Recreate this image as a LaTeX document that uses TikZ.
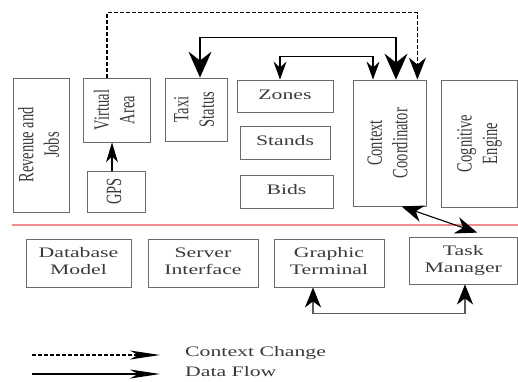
\documentclass[tikz,border=0pt]{standalone}
\usepackage{fontspec}
\setmainfont{Liberation Serif}
\usepackage{graphicx}
\usetikzlibrary{arrows.meta}
\definecolor{txtgray}{HTML}{3A3A3A}
\definecolor{boxgray}{HTML}{6A6A6A}
\definecolor{sepred}{HTML}{F08C8C}
\newcommand{\hlab}[1]{\scalebox{1.5}[1]{\begin{tabular}{@{}c@{}}#1\end{tabular}}}
\newcommand{\vlab}[1]{\scalebox{1.5}[1]{\rotatebox{90}{\begin{tabular}{@{}c@{}}#1\end{tabular}}}}
\begin{document}
\begin{tikzpicture}[x=1pt,y=-1pt,
  box/.style={draw=boxgray,line width=0.8pt,inner sep=0pt,text=txtgray,font=\fontsize{14.5}{17}\selectfont},
  legtext/.style={anchor=west,inner sep=0pt,text=txtgray,font=\fontsize{14.5}{17}\selectfont},
  flow/.style={black,line width=1.1pt},
  change/.style={black,line width=1.1pt,dash pattern=on 4pt off 2pt},
  bigtip/.tip={Stealth[length=26pt,width=23pt,inset=9pt]},
  midtip/.tip={Stealth[length=22pt,width=17pt,inset=7pt]},
  smalltip/.tip={Stealth[length=18pt,width=13pt,inset=6pt]},
  gpstip/.tip={Stealth[length=20pt,width=12pt,inset=6pt]},
  bottip/.tip={Stealth[length=20pt,width=16pt,inset=6pt,color=black]},
  legtip/.tip={Stealth[length=30pt,width=9pt,inset=8pt]}]
\useasboundingbox (0,0) rectangle (518,381);
\node[box] (rev)[minimum width=56pt,minimum height=134pt] at (41,145) {\vlab{Revenue and\\Jobs}};
\node[box] (virt)[minimum width=67pt,minimum height=64pt] at (116.5,110) {\vlab{Virtual\\Area}};
\node[box] (gps)[minimum width=58pt,minimum height=41pt] at (116,191.5) {\vlab{GPS}};
\node[box] (taxi)[minimum width=62pt,minimum height=63pt] at (196,109.5) {\vlab{Taxi\\Status}};
\node[box] (zones)[minimum width=96pt,minimum height=32pt] at (285,96) {\hlab{Zones}};
\node[box] (stands)[minimum width=90pt,minimum height=33pt] at (285,142.5) {\hlab{Stands}};
\node[box] (bids)[minimum width=93pt,minimum height=33pt] at (286.5,191.5) {\hlab{Bids}};
\node[box] (ctx)[minimum width=73pt,minimum height=126pt] at (389.5,143) {\vlab{Context\\Coordinator}};
\node[box] (cog)[minimum width=76.5pt,minimum height=127pt] at (479.25,143.5) {\vlab{Cognitive\\Engine}};
\node[box] (db)[minimum width=105pt,minimum height=48pt] at (78.5,263) {\hlab{Database\\Model}};
\node[box] (srv)[minimum width=110pt,minimum height=48pt] at (203,263) {\hlab{Server\\Interface}};
\node[box] (gfx)[minimum width=110pt,minimum height=48pt] at (329,263) {\hlab{Graphic\\Terminal}};
\node[box] (task)[minimum width=108.5pt,minimum height=47pt] at (463.25,260.5) {\hlab{Task\\Manager}};
\draw[sepred,line width=1.2pt] (12,225) -- (518,225);
\draw[change,-{midtip}] ([xshift=-9.5pt]virt.north) -- ++(0,-65) -| ([xshift=-9pt]ctx.north east);
\draw[flow,{bigtip}-{bigtip}] ([xshift=4pt]taxi.north) -- ++(0,-40) -| ([xshift=6.5pt]ctx.north);
\draw[flow,{smalltip}-{smalltip}] ([xshift=-5pt]zones.north) -- ++(0,-23) -| ([xshift=-16.5pt]ctx.north);
\draw[flow,-{gpstip}] ([xshift=-4pt]gps.north) -- ([xshift=-4pt]gps.north |- virt.south);
\draw[flow,{midtip}-{midtip}] ([xshift=12pt]ctx.south) -- ([xshift=14pt,yshift=4pt]task.north);
\draw[gray!70!black,line width=1.4pt,{bottip}-{bottip}] ([xshift=-16pt]gfx.south) -- ++(0,26) -| ([xshift=1.75pt]task.south);
\coordinate (chg0) at (32,355);
\coordinate (chg1) at (160,355);
\coordinate (flw0) at (32,374);
\coordinate (flw1) at (160,374);
\draw[change,-{legtip}] (chg0) -- (chg1);
\draw[flow,-{legtip}] (flw0) -- (flw1);
\node[legtext] (chglab) at (185,353.5) {\hlab{Context Change}};
\node[legtext] (flwlab) at (185,373.5) {\hlab{Data Flow}};
\end{tikzpicture}
\end{document}
